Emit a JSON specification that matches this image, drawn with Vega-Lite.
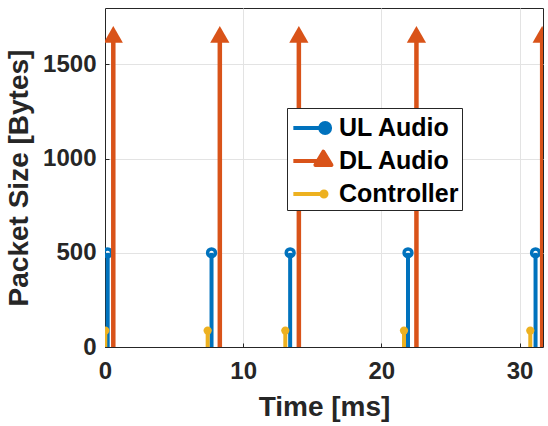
{
  "$schema": "https://vega.github.io/schema/vega-lite/v6.json",
  "width": 438,
  "height": 339,
  "autosize": {"type": "none"},
  "padding": {"left": 105, "top": 8, "right": 5, "bottom": 79},
  "background": "white",
  "data": {
    "values": [
      {"series": "UL Audio", "t": 0.195, "size": 500},
      {"series": "UL Audio", "t": 7.71, "size": 500},
      {"series": "UL Audio", "t": 13.4, "size": 500},
      {"series": "UL Audio", "t": 21.93, "size": 500},
      {"series": "UL Audio", "t": 31.16, "size": 500},
      {"series": "DL Audio", "t": 0.6, "size": 1660},
      {"series": "DL Audio", "t": 8.31, "size": 1660},
      {"series": "DL Audio", "t": 14.03, "size": 1660},
      {"series": "DL Audio", "t": 22.54, "size": 1660},
      {"series": "DL Audio", "t": 31.64, "size": 1660},
      {"series": "Controller", "t": 0.02, "size": 87},
      {"series": "Controller", "t": 7.43, "size": 87},
      {"series": "Controller", "t": 13.05, "size": 87},
      {"series": "Controller", "t": 21.64, "size": 87},
      {"series": "Controller", "t": 30.78, "size": 87}
    ]
  },
  "encoding": {
    "x": {
      "field": "t", "type": "quantitative",
      "scale": {"domain": [0, 31.7], "nice": false, "zero": false},
      "axis": {"title": "Time [ms]", "values": [0, 10, 20, 30], "format": "d", "labelFlush": false, "labelPadding": 16, "titlePadding": 10}
    },
    "y": {
      "field": "size", "type": "quantitative",
      "scale": {"domain": [0, 1800], "nice": false},
      "axis": {"title": "Packet Size [Bytes]", "values": [0, 500, 1000, 1500], "format": "d", "labelPadding": 13, "titlePadding": 9}
    },
    "color": {
      "field": "series", "type": "nominal",
      "scale": {"domain": ["UL Audio", "DL Audio", "Controller"], "range": ["#0072BD", "#D95319", "#EDB120"]},
      "legend": {
        "title": null,
        "orient": "none",
        "legendX": 182,
        "legendY": 100,
        "padding": 3,
        "rowPadding": 3,
        "symbolSize": 900,
        "labelOffset": 15,
        "labelFontSize": 25,
        "labelFontWeight": "bold",
        "labelColor": "#000000",
        "labelLimit": 300,
        "strokeColor": "#262626",
        "fillColor": "#FFFFFF",
        "encode": {
          "symbols": {
            "update": {
              "shape": {"signal": "datum.value === 'UL Audio' ? 'M-0.91,0L0.88,0M0.88,0A0.33,0.33,0,1,0,1.54,0A0.33,0.33,0,1,0,0.88,0' : datum.value === 'DL Audio' ? 'M-0.91,0L0.7,0M1.09,-0.62L1.63,0.27L0.56,0.27Z' : 'M-0.91,0L0.96,0M0.96,0A0.17,0.17,0,1,0,1.3,0A0.17,0.17,0,1,0,0.96,0'"},
              "stroke": {"signal": "datum.value === 'UL Audio' ? '#0072BD' : datum.value === 'DL Audio' ? '#D95319' : '#EDB120'"},
              "fill": {"signal": "datum.value === 'UL Audio' ? '#FFFFFF' : datum.value === 'DL Audio' ? '#D95319' : '#EDB120'"},
              "strokeWidth": {"value": 4},
              "strokeJoin": {"value": "round"},
              "opacity": {"value": 1},
              "fillOpacity": {"value": 1},
              "strokeOpacity": {"value": 1}
            }
          }
        }
      }
    }
  },
  "layer": [
    {
      "transform": [{"filter": "datum.series === 'UL Audio'"}],
      "mark": {"type": "rule", "strokeWidth": 4, "clip": true},
      "encoding": {"y2": {"datum": 0}}
    },
    {
      "transform": [{"filter": "datum.series === 'UL Audio'"}],
      "mark": {"type": "point", "shape": "circle", "filled": false, "size": 61, "strokeWidth": 3.5, "opacity": 1, "clip": true}
    },
    {
      "transform": [{"filter": "datum.series === 'DL Audio'"}],
      "mark": {"type": "rule", "strokeWidth": 4.5, "clip": true},
      "encoding": {"y2": {"datum": 0}}
    },
    {
      "transform": [{"filter": "datum.series === 'DL Audio'"}],
      "mark": {"type": "point", "shape": "triangle-up", "filled": true, "size": 370, "strokeWidth": 0, "opacity": 1, "clip": true}
    },
    {
      "transform": [{"filter": "datum.series === 'Controller'"}],
      "mark": {"type": "rule", "strokeWidth": 4, "clip": true},
      "encoding": {"y2": {"datum": 0}}
    },
    {
      "transform": [{"filter": "datum.series === 'Controller'"}],
      "mark": {"type": "point", "shape": "circle", "filled": true, "size": 68, "strokeWidth": 0, "opacity": 1, "clip": true}
    }
  ],
  "config": {
    "font": "Liberation Sans",
    "view": {"stroke": "#262626", "strokeWidth": 1},
    "axis": {
      "grid": true,
      "gridColor": "#E3E3E3",
      "gridWidth": 1,
      "domainColor": "#262626",
      "domainWidth": 1,
      "ticks": true,
      "tickSize": -4,
      "tickColor": "#262626",
      "labelFontSize": 24,
      "labelFontWeight": "bold",
      "labelColor": "#262626",
      "labelOverlap": false,
      "titleFontSize": 28,
      "titleFontWeight": "bold",
      "titleColor": "#262626"
    }
  }
}
